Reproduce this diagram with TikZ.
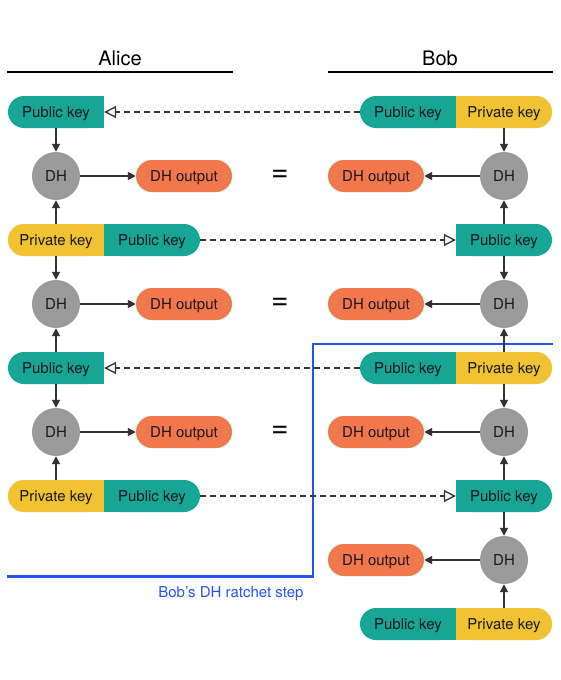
\documentclass[tikz,border=0pt]{standalone}
\usepackage{fontspec}
\setmainfont{TeX Gyre Heros}
\usetikzlibrary{arrows.meta}

\definecolor{cleteal}{HTML}{17A595}
\definecolor{clejaune}{HTML}{F1C232}
\definecolor{sortieorange}{HTML}{F2774D}
\definecolor{dhgris}{HTML}{9B9B9B}
\definecolor{trait}{HTML}{333333}
\definecolor{bleuetape}{HTML}{2453F2}

\begin{document}
\begin{tikzpicture}[x=1pt, y=-1pt,
    box/.style={rounded corners=16pt, minimum width=96pt, minimum height=32pt, inner sep=0pt, text height=10.8pt, text depth=0pt, text=black!90, font=\fontsize{15}{18}\selectfont},
    pub/.style={box, fill=cleteal},
    priv/.style={box, fill=clejaune},
    sortie/.style={box, fill=sortieorange},
    dh/.style={circle, fill=dhgris, minimum size=48pt, inner sep=0pt, text height=10.8pt, text depth=0pt, text=black!90, font=\fontsize{15}{18}\selectfont},
    egal/.style={font=\fontsize{30}{34}\selectfont},
    fleche/.style={draw=trait, line width=1.6pt, -{Triangle[length=8pt,width=8pt]}},
    envoi/.style={draw=trait, line width=1.3pt, dash pattern=on 6pt off 4pt, -{Triangle[open,length=12pt,width=12pt]}}]

    \useasboundingbox (0,0) rectangle (560,680);

    % En-têtes
    \node[font=\fontsize{20}{24}\selectfont] (alice) at (120,58) {Alice};
    \node[font=\fontsize{20}{24}\selectfont] (bob) at (440,58) {Bob};
    \draw[line width=1.5pt] (7,72) -- (233,72);
    \draw[line width=1.5pt] (328,72) -- (553,72);

    % Étape de cliquet de Bob
    \draw[bleuetape, line width=2.5pt] (7,576.5) -- (313,576.5) -- (313,344) -- (553,344);
    \node[text=bleuetape, font=\fontsize{15}{18}\selectfont, anchor=east] (etape) at (307,594) {Bob’s DH ratchet step};

    % Ligne 1
    \fill[cleteal] (56,96) rectangle (104,128);
    \node[pub] (pubA1) at (56,112) {Public key};
    \fill[cleteal] (408,96) rectangle (456,128);
    \node[pub] (pubB1) at (408,112) {Public key};
    \fill[clejaune] (456,96) rectangle (504,128);
    \node[priv] (privB1) at (504,112) {Private key};

    % Ligne 2
    \node[dh] (dhA2) at (56,176) {DH};
    \node[sortie] (outA2) at (184,176) {DH output};
    \node[egal] (eq2) at (280,176) {=};
    \node[sortie] (outB2) at (376,176) {DH output};
    \node[dh] (dhB2) at (504,176) {DH};

    % Ligne 3
    \fill[clejaune] (56,224) rectangle (104,256);
    \node[priv] (privA3) at (56,240) {Private key};
    \fill[cleteal] (104,224) rectangle (152,256);
    \node[pub] (pubA3) at (152,240) {Public key};
    \fill[cleteal] (456,224) rectangle (504,256);
    \node[pub] (pubB3) at (504,240) {Public key};

    % Ligne 4
    \node[dh] (dhA4) at (56,304) {DH};
    \node[sortie] (outA4) at (184,304) {DH output};
    \node[egal] (eq4) at (280,304) {=};
    \node[sortie] (outB4) at (376,304) {DH output};
    \node[dh] (dhB4) at (504,304) {DH};

    % Ligne 5
    \fill[cleteal] (56,352) rectangle (104,384);
    \node[pub] (pubA5) at (56,368) {Public key};
    \fill[cleteal] (408,352) rectangle (456,384);
    \node[pub] (pubB5) at (408,368) {Public key};
    \fill[clejaune] (456,352) rectangle (504,384);
    \node[priv] (privB5) at (504,368) {Private key};

    % Ligne 6
    \node[dh] (dhA6) at (56,432) {DH};
    \node[sortie] (outA6) at (184,432) {DH output};
    \node[egal] (eq6) at (280,432) {=};
    \node[sortie] (outB6) at (376,432) {DH output};
    \node[dh] (dhB6) at (504,432) {DH};

    % Ligne 7
    \fill[clejaune] (56,480) rectangle (104,512);
    \node[priv] (privA7) at (56,496) {Private key};
    \fill[cleteal] (104,480) rectangle (152,512);
    \node[pub] (pubA7) at (152,496) {Public key};
    \fill[cleteal] (456,480) rectangle (504,512);
    \node[pub] (pubB7) at (504,496) {Public key};

    % Lignes 8 et 9 (Bob seul)
    \node[sortie] (outB8) at (376,560) {DH output};
    \node[dh] (dhB8) at (504,560) {DH};
    \fill[cleteal] (408,608) rectangle (456,640);
    \node[pub] (pubB9) at (408,624) {Public key};
    \fill[clejaune] (456,608) rectangle (504,640);
    \node[priv] (privB9) at (504,624) {Private key};

    % Flèches d'Alice
    \draw[fleche] (pubA1) -- (dhA2);
    \draw[fleche] (privA3) -- (dhA2);
    \draw[fleche] (privA3) -- (dhA4);
    \draw[fleche] (pubA5) -- (dhA4);
    \draw[fleche] (pubA5) -- (dhA6);
    \draw[fleche] (privA7) -- (dhA6);
    \draw[fleche] (dhA2) -- (outA2);
    \draw[fleche] (dhA4) -- (outA4);
    \draw[fleche] (dhA6) -- (outA6);

    % Flèches de Bob
    \draw[fleche] (privB1) -- (dhB2);
    \draw[fleche] (pubB3) -- (dhB2);
    \draw[fleche] (pubB3) -- (dhB4);
    \draw[fleche] (privB5) -- (dhB4);
    \draw[fleche] (privB5) -- (dhB6);
    \draw[fleche] (pubB7) -- (dhB6);
    \draw[fleche] (pubB7) -- (dhB8);
    \draw[fleche] (privB9) -- (dhB8);
    \draw[fleche] (dhB2) -- (outB2);
    \draw[fleche] (dhB4) -- (outB4);
    \draw[fleche] (dhB6) -- (outB6);
    \draw[fleche] (dhB8) -- (outB8);

    % Envois des clés publiques
    \draw[envoi] (pubB1) -- (pubA1);
    \draw[envoi] (pubA3) -- (pubB3);
    \draw[envoi] (pubB5) -- (pubA5);
    \draw[envoi] (pubA7) -- (pubB7);

\end{tikzpicture}
\end{document}
